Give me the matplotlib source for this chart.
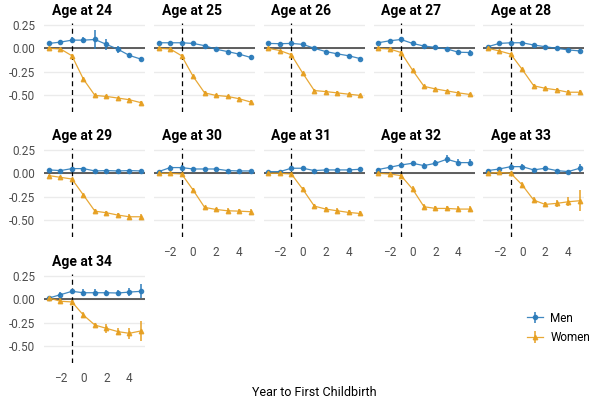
import numpy as np
import matplotlib
matplotlib.use("Agg")
import matplotlib.pyplot as plt

plt.rcParams['font.family'] = ['Roboto', 'DejaVu Sans']

# event time relative to first childbirth
years = [-3, -2, -1, 0, 1, 2, 3, 4, 5]
ages = [24, 25, 26, 27, 28, 29, 30, 31, 32, 33, 34]

men = {
    24: [0.052, 0.066, 0.087, 0.087, 0.094, 0.042, -0.010, -0.076, -0.115],
    25: [0.059, 0.059, 0.059, 0.052, 0.028, -0.010, -0.035, -0.062, -0.097],
    26: [0.052, 0.049, 0.052, 0.042, 0.000, -0.035, -0.059, -0.080, -0.110],
    27: [0.059, 0.080, 0.094, 0.052, 0.024, 0.010, -0.007, -0.042, -0.045],
    28: [0.017, 0.052, 0.059, 0.059, 0.035, 0.017, 0.000, -0.017, -0.028],
    29: [0.036, 0.029, 0.050, 0.050, 0.025, 0.029, 0.025, 0.029, 0.025],
    30: [0.018, 0.061, 0.061, 0.046, 0.046, 0.046, 0.029, 0.025, 0.025],
    31: [0.018, 0.018, 0.054, 0.054, 0.029, 0.036, 0.036, 0.036, 0.043],
    32: [0.040, 0.064, 0.089, 0.107, 0.082, 0.107, 0.150, 0.114, 0.114],
    33: [0.029, 0.046, 0.071, 0.071, 0.036, 0.054, 0.029, 0.018, 0.054],
    34: [0.014, 0.049, 0.085, 0.070, 0.070, 0.070, 0.067, 0.077, 0.085],
}
men_err = {
    24: [0.020, 0.025, 0.030, 0.035, 0.100, 0.060, 0.035, 0.030, 0.025],
    25: [0.015, 0.015, 0.015, 0.015, 0.015, 0.015, 0.020, 0.020, 0.025],
    26: [0.015, 0.015, 0.015, 0.015, 0.015, 0.020, 0.020, 0.020, 0.020],
    27: [0.015, 0.020, 0.025, 0.025, 0.020, 0.020, 0.025, 0.025, 0.025],
    28: [0.015, 0.015, 0.020, 0.020, 0.020, 0.015, 0.020, 0.020, 0.025],
    29: [0.015, 0.015, 0.015, 0.015, 0.015, 0.015, 0.015, 0.020, 0.020],
    30: [0.010, 0.030, 0.030, 0.020, 0.015, 0.015, 0.015, 0.015, 0.015],
    31: [0.010, 0.010, 0.020, 0.020, 0.020, 0.020, 0.020, 0.020, 0.020],
    32: [0.015, 0.020, 0.025, 0.025, 0.025, 0.030, 0.045, 0.035, 0.040],
    33: [0.015, 0.020, 0.030, 0.025, 0.020, 0.025, 0.020, 0.020, 0.040],
    34: [0.015, 0.025, 0.030, 0.035, 0.035, 0.030, 0.035, 0.045, 0.075],
}
women = {
    24: [0.000, -0.007, -0.080, -0.330, -0.503, -0.514, -0.531, -0.549, -0.580],
    25: [0.000, -0.007, -0.080, -0.300, -0.476, -0.503, -0.514, -0.538, -0.573],
    26: [0.000, -0.024, -0.069, -0.267, -0.451, -0.462, -0.476, -0.490, -0.503],
    27: [0.000, -0.007, -0.045, -0.233, -0.406, -0.434, -0.455, -0.476, -0.493],
    28: [0.000, -0.028, -0.062, -0.226, -0.400, -0.427, -0.444, -0.469, -0.469],
    29: [-0.025, -0.043, -0.061, -0.232, -0.404, -0.421, -0.446, -0.464, -0.464],
    30: [0.000, 0.000, -0.007, -0.179, -0.364, -0.386, -0.400, -0.404, -0.410],
    31: [0.000, 0.000, -0.007, -0.171, -0.350, -0.382, -0.400, -0.418, -0.429],
    32: [0.000, -0.007, -0.025, -0.168, -0.357, -0.375, -0.375, -0.382, -0.382],
    33: [0.000, 0.010, 0.000, -0.125, -0.286, -0.332, -0.321, -0.304, -0.293],
    34: [0.014, -0.021, -0.028, -0.169, -0.275, -0.310, -0.345, -0.363, -0.338],
}
women_err = {
    24: [0.005, 0.010, 0.015, 0.020, 0.020, 0.020, 0.015, 0.015, 0.020],
    25: [0.005, 0.010, 0.015, 0.015, 0.015, 0.015, 0.015, 0.015, 0.020],
    26: [0.005, 0.010, 0.015, 0.015, 0.015, 0.015, 0.015, 0.015, 0.020],
    27: [0.005, 0.010, 0.015, 0.015, 0.015, 0.015, 0.015, 0.015, 0.020],
    28: [0.005, 0.010, 0.015, 0.015, 0.015, 0.015, 0.015, 0.020, 0.020],
    29: [0.010, 0.010, 0.010, 0.015, 0.020, 0.020, 0.025, 0.030, 0.030],
    30: [0.005, 0.005, 0.010, 0.020, 0.020, 0.020, 0.025, 0.025, 0.030],
    31: [0.005, 0.005, 0.010, 0.020, 0.020, 0.025, 0.025, 0.030, 0.030],
    32: [0.010, 0.010, 0.020, 0.030, 0.025, 0.025, 0.030, 0.035, 0.035],
    33: [0.010, 0.015, 0.015, 0.030, 0.030, 0.030, 0.035, 0.050, 0.110],
    34: [0.015, 0.030, 0.025, 0.035, 0.025, 0.045, 0.040, 0.060, 0.110],
}

yticks = [-0.5, -0.25, 0, 0.25]
xticks = [-2, 0, 2, 4]

c_men = '#2b7bba'
c_women = '#e69f20'

W, H = 594, 404
fig = plt.figure(figsize=(W / 100, H / 100), dpi=100)

pw, ph = 101, 89
col_left = [44.4 + 109.7 * c for c in range(5)]
row_top = [23, 148, 274]

handles = None
for i, age in enumerate(ages):
    r, c = divmod(i, 5)
    L, T = col_left[c], row_top[r]
    ax = fig.add_axes([L / W, 1 - (T + ph) / H, pw / W, ph / H])
    ax.set_xlim(-3.4, 5.4)
    ax.set_ylim(-0.68, 0.27)
    for s in ax.spines.values():
        s.set_visible(False)
    ax.set_yticks(yticks)
    ax.set_xticks(xticks)
    ax.yaxis.grid(True, color='#ebebeb', lw=1.0, zorder=0)
    ax.set_axisbelow(True)
    ax.tick_params(length=0, labelsize=8.5, labelcolor='#4d4d4d', pad=6.5)

    ax.axhline(0, color='#444444', lw=1.2, zorder=1)
    ax.axvline(-1, color='black', lw=0.9, ls=(0, (4, 3)), zorder=1)

    hm = ax.errorbar(years, men[age], yerr=men_err[age], color=c_men, marker='o', ms=3,
                     lw=0.9, elinewidth=1.2, alpha=0.9, capsize=0, zorder=3, label='Men')
    hw = ax.errorbar(years, women[age], yerr=women_err[age], color=c_women, marker='^', ms=3.2,
                     lw=0.9, elinewidth=1.2, alpha=0.9, capsize=0, zorder=3, label='Women')
    handles = [hm, hw]

    ax.text(7.5 / pw, 1 + 8 / ph, f'Age at {age}', transform=ax.transAxes,
            fontsize=10, fontweight='bold', ha='left', va='baseline', color='black')

    if c != 0:
        ax.set_yticklabels([])
    else:
        ax.set_yticklabels(['-0.50', '-0.25', '0.00', '0.25'])
    # x labels only on the bottom panel of each column
    bottom = (r == 2) or (r == 1 and c >= 1)
    if not bottom:
        ax.set_xticklabels([])

fig.text(314 / W, 1 - 393 / H, 'Year to First Childbirth', ha='center', va='center',
         fontsize=9, color='black')

fig.legend(handles=handles, labels=['Men', 'Women'], loc='upper left',
           bbox_to_anchor=(516 / W, 1 - 301 / H), frameon=False, fontsize=8.5,
           handlelength=1.4, handletextpad=0.6, labelspacing=0.55)

fig.savefig('out.png', dpi=100)
